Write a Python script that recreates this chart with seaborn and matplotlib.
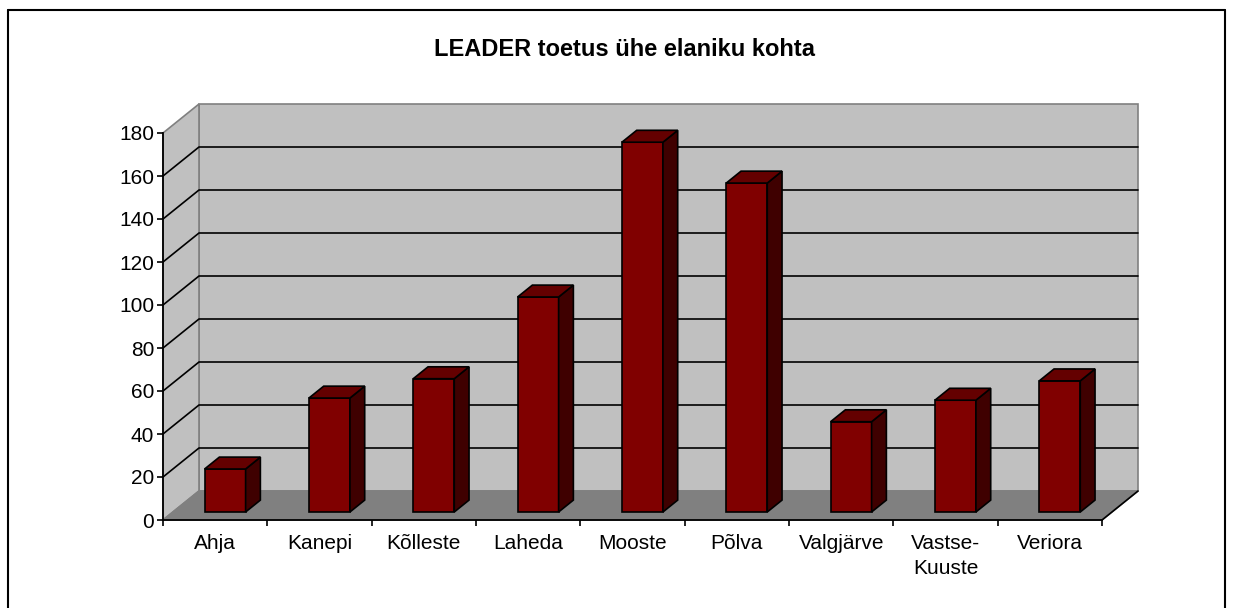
import numpy as np
import matplotlib
matplotlib.use("Agg")
import matplotlib.pyplot as plt
import seaborn as sns
from matplotlib.patches import Polygon
from matplotlib.lines import Line2D

# data
kohad = ["Ahja", "Kanepi", "Kõlleste", "Laheda", "Mooste", "Põlva",
         "Valgjärve", "Vastse-\nKuuste", "Veriora"]
toetus = [20, 53, 62, 100, 172, 153, 42, 52, 61]
y_ticks = list(range(0, 181, 20))
title = "LEADER toetus ühe elaniku kohta"

sns.set_style("white")
plt.rcParams["font.family"] = ["Liberation Sans", "DejaVu Sans"]
plt.rcParams["text.color"] = "black"
plt.rcParams["xtick.color"] = "black"
plt.rcParams["ytick.color"] = "black"
plt.rcParams["xtick.labelcolor"] = "black"
plt.rcParams["ytick.labelcolor"] = "black"

W, H = 1233, 608
fig = plt.figure(figsize=(W / 100, H / 100), dpi=100)
# front plot rectangle in pixels: x 163..1102, y 133..520 (from top)
ax = fig.add_axes([163 / W, (H - 520) / H, (1102 - 163) / W, (520 - 133) / H])
ax.set_xlim(-0.5, 8.5)
ax.set_ylim(0, 180)

# 3d depth of the box in data units
DX, DY = 36 / 104.33, 29 / 2.15
f0, fb = 0.276, 0.41  # bar front plane, bar depth (fraction of box depth)

wall = "#C0C0C0"
edge_grey = "#808080"
back = Polygon([(-0.5 + DX, DY), (8.5 + DX, DY), (8.5 + DX, 180 + DY), (-0.5 + DX, 180 + DY)],
               closed=True, fc=wall, ec=edge_grey, lw=1.2, clip_on=False, zorder=0)
left = Polygon([(-0.5, 0), (-0.5, 180), (-0.5 + DX, 180 + DY), (-0.5 + DX, DY)],
               closed=True, fc=wall, ec=edge_grey, lw=1.2, clip_on=False, zorder=0)
floor = Polygon([(-0.5, 0), (8.5, 0), (8.5 + DX, DY), (-0.5 + DX, DY)],
                closed=True, fc="#808080", ec=edge_grey, lw=1.2, clip_on=False, zorder=0.5)
for p in (back, left, floor):
    ax.add_patch(p)
ax.plot([8.5, 8.5 + DX], [0, DY], color="black", lw=1.2, clip_on=False, zorder=0.6)

# gridlines on back wall and left wall
for v in y_ticks[1:-1]:
    ax.plot([-0.5, -0.5 + DX, 8.5 + DX], [v, v + DY, v + DY], color="black",
            lw=1.2, clip_on=False, zorder=0.3)

# front faces via seaborn
sns.barplot(x=kohad, y=toetus, color="#800000", width=0.393, saturation=1,
            edgecolor="black", linewidth=1.2, ax=ax, zorder=3)

bar_rgb = matplotlib.colors.to_rgb("#800000")
bars = [p for p in ax.patches if p.get_facecolor()[:3] == bar_rgb]
for bar in bars:
    bar.set_x(bar.get_x() + f0 * DX)
    bar.set_y(f0 * DY)
    bar.set_clip_on(False)
    x0 = bar.get_x()
    x1 = x0 + bar.get_width()
    y0 = bar.get_y()
    y1 = y0 + bar.get_height()
    ddx, ddy = fb * DX, fb * DY
    side = Polygon([(x1, y0), (x1 + ddx, y0 + ddy), (x1 + ddx, y1 + ddy), (x1, y1)],
                   closed=True, fc="#3f0000", ec="black", lw=1.2, clip_on=False, zorder=3)
    top = Polygon([(x0, y1), (x1, y1), (x1 + ddx, y1 + ddy), (x0 + ddx, y1 + ddy)],
                  closed=True, fc="#640000", ec="black", lw=1.2, clip_on=False, zorder=3)
    ax.add_patch(side)
    ax.add_patch(top)

# axes styling
for s in ("top", "right"):
    ax.spines[s].set_visible(False)
for s in ("left", "bottom"):
    ax.spines[s].set_color("black")
    ax.spines[s].set_linewidth(1.3)
    ax.spines[s].set_zorder(4)

ax.set_yticks(y_ticks)
ax.set_yticklabels([str(v) for v in y_ticks], fontsize=15)
ax.set_xticks(np.arange(-0.5, 9, 1))
ax.set_xticklabels([])
ax.set_xticks(np.arange(9), minor=True)
ax.set_xticklabels(kohad, minor=True, fontsize=15, va="top", linespacing=1.4)
ax.tick_params(axis="y", direction="out", length=4.3, width=1.2, pad=2, left=True)
ax.tick_params(axis="x", which="major", direction="out", length=4.3, width=1.2, bottom=True)
ax.tick_params(axis="x", which="minor", length=0, pad=10)
ax.set_xlabel("")
ax.set_ylabel("")
ax.grid(False)

fig.text(625 / W, 1 - 50 / H, title, ha="center", va="center",
         fontsize=17, fontweight="bold", color="black")

# chart border
for xs, ys in (([8, 8], [10, H + 5]), ([8, 1225], [10, 10]), ([1225, 1225], [10, H + 5])):
    fig.add_artist(Line2D([x / W for x in xs], [1 - y / H for y in ys],
                          color="black", lw=1.5, transform=fig.transFigure))

fig.savefig("out.png", dpi=100)
